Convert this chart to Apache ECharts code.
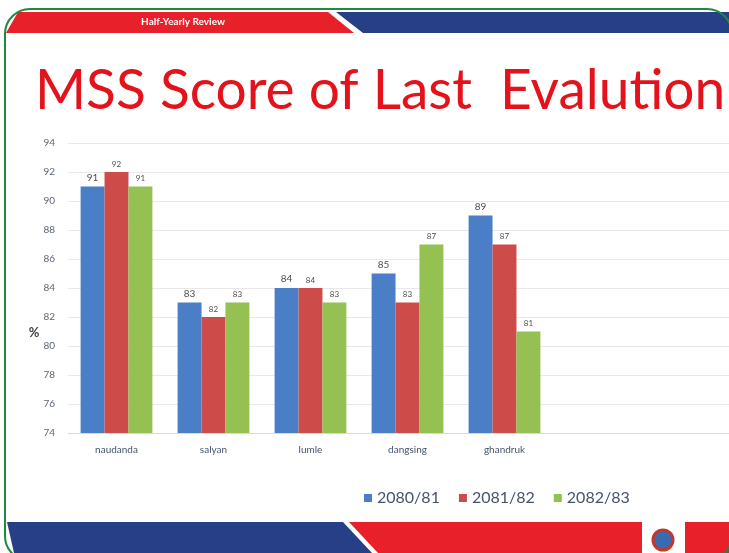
<!DOCTYPE html>
<html>
<head>
<meta charset="utf-8">
<script src="https://cdn.jsdelivr.net/npm/echarts@6/dist/echarts.min.js"></script>
<style>
  html, body { margin: 0; padding: 0; background: #fff; }
  #chart { width: 729px; height: 553px; }
</style>
</head>
<body>
<div id="chart"></div>
<script>
// data
const categories = ['naudanda', 'salyan', 'lumle', 'dangsing', 'ghandruk'];
const seriesNames = ['2080/81', '2081/82', '2082/83'];
const values2080 = [91, 83, 84, 85, 89];
const values2081 = [92, 82, 84, 83, 87];
const values2082 = [91, 83, 83, 87, 81];
const yMin = 74;
const yMax = 94;
const yStep = 2;

const COLORS = ['#4a7ec6', '#cd4b49', '#95c052'];
const FONT = 'Lato';

// the slide's plot area runs on past the right edge, two empty slots keep the spacing
const axisCategories = categories.concat(['', '']);

const chart = echarts.init(document.getElementById('chart'));

const makeSeries = (name, data, idx) => ({
  name: name,
  type: 'bar',
  data: data,
  barGap: '0%',
  barCategoryGap: '26%',
  itemStyle: { color: COLORS[idx] },
  label: {
    show: true,
    position: 'top',
    distance: 4,
    color: '#4d4d4d',
    fontFamily: FONT,
    fontSize: idx === 0 ? 10 : 8,
  },
  z: 3,
});

const option = {
  animation: false,
  backgroundColor: '#fff',
  color: COLORS,
  grid: { left: 68, width: 679, top: 143, bottom: 120, containLabel: false, outerBoundsMode: 'none' },
  legend: {
    left: 359,
    top: 485,
    icon: 'rect',
    itemWidth: 8,
    itemHeight: 8,
    itemGap: 19,
    itemStyle: { borderWidth: 0 },
    textStyle: { fontFamily: FONT, fontSize: 16, color: '#44546a' },
    data: seriesNames,
  },
  xAxis: {
    type: 'category',
    data: axisCategories,
    axisTick: { show: false },
    axisLine: { lineStyle: { color: '#d9d9d9' } },
    axisLabel: { fontFamily: FONT, fontSize: 10, color: '#44546a', margin: 12 },
  },
  yAxis: {
    type: 'value',
    min: yMin,
    max: yMax,
    interval: yStep,
    axisLine: { show: false },
    axisTick: { show: false },
    axisLabel: { fontFamily: FONT, fontSize: 10, color: '#5b6775', margin: 13 },
    splitLine: { lineStyle: { color: '#e8e8e8' } },
  },
  series: [
    makeSeries(seriesNames[0], values2080, 0),
    makeSeries(seriesNames[1], values2081, 1),
    makeSeries(seriesNames[2], values2082, 2),
  ],
  graphic: [
    // top banner
    { type: 'polygon', z: 0, shape: { points: [[18, 12], [328, 12], [354, 33], [6, 33]] }, style: { fill: '#e8202a' } },
    { type: 'polygon', z: 0, shape: { points: [[336, 12], [740, 12], [740, 33], [363, 33]] }, style: { fill: '#263f86' } },
    {
      type: 'text', z: 1, x: 183, y: 22,
      style: { text: 'Half-Yearly Review', fill: '#fff', font: 'bold 10px ' + FONT, textAlign: 'center', textVerticalAlign: 'middle' },
    },
    // title
    {
      type: 'text', z: 1, x: 35, y: 91, scaleX: 0.983,
      style: { text: 'MSS Score of Last  Evalution', fill: '#e3121b', font: '56px ' + FONT, textAlign: 'left', textVerticalAlign: 'middle' },
    },
    // y axis name
    {
      type: 'text', z: 1, x: 34, y: 333,
      style: { text: '%', fill: '#404040', font: 'bold 13px ' + FONT, textAlign: 'center', textVerticalAlign: 'middle' },
    },
    // bottom banner
    { type: 'polygon', z: 0, shape: { points: [[7, 522], [343, 522], [372, 553], [14, 553]] }, style: { fill: '#263f86' } },
    { type: 'polygon', z: 0, shape: { points: [[349, 522], [740, 522], [740, 553], [378, 553]] }, style: { fill: '#e8202a' } },
    { type: 'rect', z: 1, shape: { x: 642, y: 522, width: 43, height: 31 }, style: { fill: '#fff' } },
    { type: 'circle', z: 2, shape: { cx: 663, cy: 540, r: 10 }, style: { fill: '#3a6bb0', stroke: '#c0392b', lineWidth: 3 } },
    // slide border
    {
      type: 'rect', z: 5, shape: { x: 5, y: 9, width: 727, height: 552, r: 25 },
      style: { fill: null, stroke: '#1d8a3c', lineWidth: 2 },
    },
  ],
};

chart.setOption(option);
</script>
</body>
</html>
